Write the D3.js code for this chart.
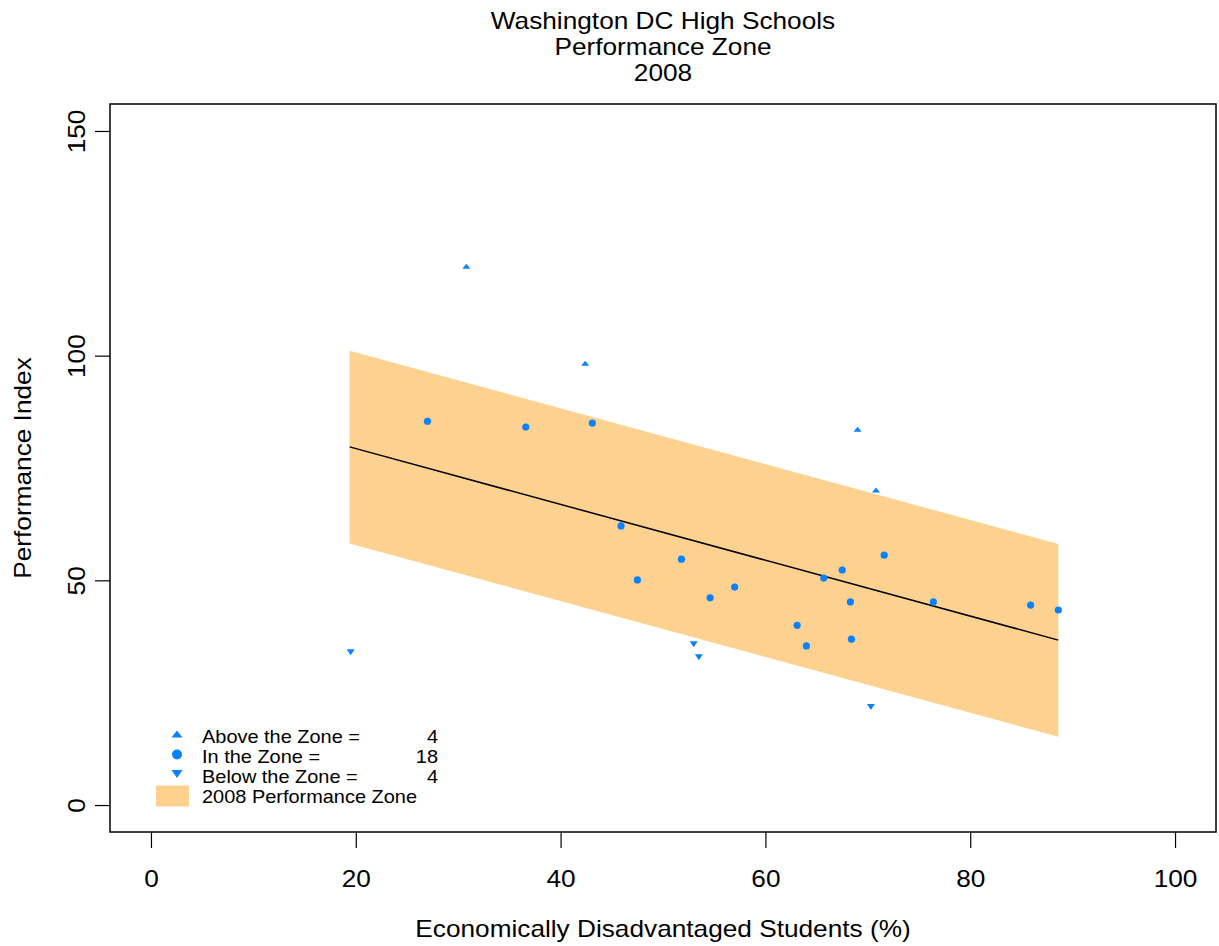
<!DOCTYPE html>
<html>
<head>
<meta charset="utf-8">
<script src="https://d3js.org/d3.v7.min.js"></script>
<style>
  body { margin: 0; background: #fff; }
  svg { display: block; font-family: "Liberation Sans", Arial, Helvetica, sans-serif; }
</style>
</head>
<body>
<svg id="chart" width="1219" height="946"></svg>
<script>
/* data */
var aboveX = [30.8, 42.4, 69.0, 70.8];
var aboveY = [119.9, 98.3, 83.6, 70.1];

var inX = [27.0, 36.6, 43.1, 45.9, 47.5, 51.8, 54.6, 57.0, 63.1, 64.0, 65.7, 67.5, 68.3, 68.4, 71.6, 76.4, 85.9, 88.6];
var inY = [85.4, 84.1, 85.0, 62.1, 50.1, 54.7, 46.1, 48.5, 40.0, 35.4, 50.5, 52.3, 45.2, 36.9, 55.6, 45.2, 44.5, 43.4];

var belowX = [19.5, 53.0, 53.5, 70.3];
var belowY = [34.0, 35.8, 32.9, 21.8];

var lineX = [19.4, 88.6];
var lineY = [79.7, 36.7];
var zoneTop = [101.1, 58.1];
var zoneBottom = [58.2, 15.2];

var xTicks = [0, 20, 40, 60, 80, 100];
var yTicks = [0, 50, 100, 150];

var titleLines = ["Washington DC High Schools", "Performance Zone", "2008"];
var legendLabels = ["Above the Zone =", "In the Zone =", "Below the Zone =", "2008 Performance Zone"];
var legendCounts = [aboveX.length, inX.length, belowX.length];

var blue = "#0a82fe";
var zoneFill = "#fdd290";
var stretch = "scale(1.14,1)";   // glyphs in the picture run a bit wide

var svg = d3.select("#chart");

// plot box
var boxL = 110, boxR = 1216, boxT = 104, boxB = 832;

let x = d3.scaleLinear().domain([-4, 104]).range([boxL, boxR]);
let y = d3.scaleLinear().domain([-6, 156]).range([boxB, boxT]);

// zone band
var zone = lineX.map(function (d, i) {
    return { x: d, y0: zoneBottom[i], y1: zoneTop[i] };
});
svg.append("path")
    .datum(zone)
    .attr("fill", zoneFill)
    .attr("d", d3.area()
        .x(function (d) { return x(d.x); })
        .y0(function (d) { return y(d.y0); })
        .y1(function (d) { return y(d.y1); }));

// fitted line
svg.append("path")
    .datum(d3.zip(lineX, lineY))
    .attr("fill", "none")
    .attr("stroke", "#000")
    .attr("stroke-width", 1.5)
    .attr("d", d3.line()
        .x(function (d) { return x(d[0]); })
        .y(function (d) { return y(d[1]); }));

// triangle path helper, pointing up (dir=1) or down (dir=-1)
function tri(w, h, dir) {
    return "M" + (-w / 2) + "," + (dir * h / 2) +
        "L" + (w / 2) + "," + (dir * h / 2) +
        "L0," + (-dir * h / 2) + "Z";
}

// points
svg.append("g").selectAll("circle")
    .data(d3.zip(inX, inY))
    .enter().append("circle")
    .attr("cx", function (d) { return x(d[0]); })
    .attr("cy", function (d) { return y(d[1]); })
    .attr("r", 3.6)
    .attr("fill", blue);

svg.append("g").selectAll("path")
    .data(d3.zip(aboveX, aboveY))
    .enter().append("path")
    .attr("transform", function (d) { return "translate(" + x(d[0]) + "," + y(d[1]) + ")"; })
    .attr("d", tri(8, 5, 1))
    .attr("fill", blue);

svg.append("g").selectAll("path")
    .data(d3.zip(belowX, belowY))
    .enter().append("path")
    .attr("transform", function (d) { return "translate(" + x(d[0]) + "," + y(d[1]) + ")"; })
    .attr("d", tri(8, 6, -1))
    .attr("fill", blue);

// box
svg.append("rect")
    .attr("x", boxL).attr("y", boxT)
    .attr("width", boxR - boxL).attr("height", boxB - boxT)
    .attr("fill", "none")
    .attr("stroke", "#000")
    .attr("stroke-width", 1.5);

// axes
let xAxis = svg.append("g")
    .attr("transform", "translate(0," + boxB + ")")
    .call(d3.axisBottom(x).tickValues(xTicks).tickSize(16).tickFormat(d3.format("d")));
xAxis.select(".domain").remove();
xAxis.selectAll("line").attr("stroke-width", 1.2);
xAxis.selectAll("text")
    .attr("y", 55).attr("dy", null)
    .attr("transform", stretch)
    .attr("font-size", 23)
    .attr("fill", "#000");

let yAxis = svg.append("g")
    .attr("transform", "translate(" + boxL + ",0)")
    .call(d3.axisLeft(y).tickValues(yTicks).tickSize(15).tickFormat(d3.format("d")));
yAxis.select(".domain").remove();
yAxis.selectAll("line").attr("stroke-width", 1.2);
yAxis.selectAll("text")
    .attr("x", 0).attr("y", -25).attr("dy", null)
    .attr("text-anchor", "middle")
    .attr("transform", "rotate(-90) " + stretch)
    .attr("font-size", 23)
    .attr("fill", "#000");
svg.selectAll("g").attr("font-family", null);

// titles
svg.append("g").selectAll("text")
    .data(titleLines)
    .enter().append("text")
    .attr("transform", function (d, i) { return "translate(" + (boxL + boxR) / 2 + "," + (29 + i * 26) + ") " + stretch; })
    .attr("text-anchor", "middle")
    .attr("font-size", 23)
    .text(function (d) { return d; });

svg.append("text")
    .attr("transform", "translate(" + (boxL + boxR) / 2 + ",937) " + stretch)
    .attr("text-anchor", "middle")
    .attr("font-size", 23)
    .text("Economically Disadvantaged Students (%)");

svg.append("text")
    .attr("transform", "translate(31," + (boxT + boxB) / 2 + ") rotate(-90) " + stretch)
    .attr("text-anchor", "middle")
    .attr("font-size", 23)
    .text("Performance Index");

// legend
let legend = svg.append("g").attr("transform", "translate(177,743)");
legend.selectAll("text.lab")
    .data(legendLabels)
    .enter().append("text")
    .attr("class", "lab")
    .attr("transform", function (d, i) { return "translate(25," + i * 20 + ") " + stretch; })
    .attr("font-size", 17.5)
    .text(function (d) { return d; });
legend.selectAll("text.num")
    .data(legendCounts)
    .enter().append("text")
    .attr("class", "num")
    .attr("transform", function (d, i) { return "translate(261," + i * 20 + ") " + stretch; })
    .attr("text-anchor", "end")
    .attr("font-size", 17.5)
    .text(function (d) { return d; });
legend.append("path")
    .attr("transform", "translate(0,-9)")
    .attr("d", tri(11, 7, 1))
    .attr("fill", blue);
legend.append("circle")
    .attr("cx", 0).attr("cy", 11.5)
    .attr("r", 5)
    .attr("fill", blue);
legend.append("path")
    .attr("transform", "translate(0,31)")
    .attr("d", tri(11, 8, -1))
    .attr("fill", blue);
legend.append("rect")
    .attr("x", -21).attr("y", 42.5)
    .attr("width", 33).attr("height", 21)
    .attr("fill", zoneFill);
</script>
</body>
</html>
